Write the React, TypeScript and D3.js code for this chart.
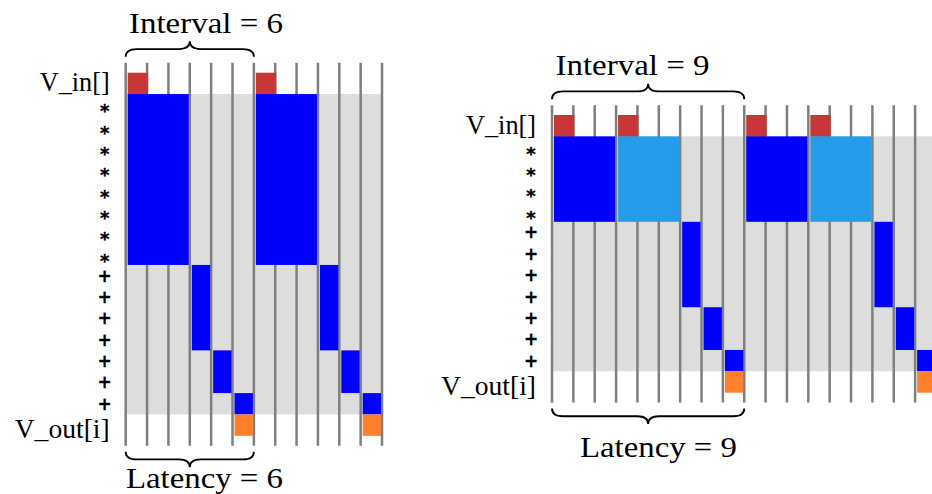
import React from 'react';
import * as d3 from 'd3';

// row labels, top to bottom
const leftRows = ['V_in[]', '*', '*', '*', '*', '*', '*', '*', '*', '+', '+', '+', '+', '+', '+', '+', 'V_out[i]'];
const rightRows = ['V_in[]', '*', '*', '*', '*', '+', '+', '+', '+', '+', '+', '+', 'V_out[i]'];

// schedule blocks: [col, colSpan, row, rowSpan, kind]
type Block = [number, number, number, number, string];

const leftBlocks: Block[] = [
  [0, 1, 0, 1, 'in'], [6, 1, 0, 1, 'in'],
  [0, 3, 1, 8, 'mul'], [6, 3, 1, 8, 'mul'],
  [3, 1, 9, 4, 'add'], [4, 1, 13, 2, 'add'], [5, 1, 15, 1, 'add'],
  [9, 1, 9, 4, 'add'], [10, 1, 13, 2, 'add'], [11, 1, 15, 1, 'add'],
  [5, 1, 16, 1, 'out'], [11, 1, 16, 1, 'out'],
];

const rightBlocks: Block[] = [
  [0, 1, 0, 1, 'in'], [3, 1, 0, 1, 'in'], [9, 1, 0, 1, 'in'], [12, 1, 0, 1, 'in'],
  [0, 3, 1, 4, 'mul'], [3, 3, 1, 4, 'mul2'], [9, 3, 1, 4, 'mul'], [12, 3, 1, 4, 'mul2'],
  [6, 1, 5, 4, 'add'], [7, 1, 9, 2, 'add'], [8, 1, 11, 1, 'add'],
  [15, 1, 5, 4, 'add'], [16, 1, 9, 2, 'add'], [17, 1, 11, 1, 'add'],
  [8, 1, 12, 1, 'out'], [17, 1, 12, 1, 'out'],
];

const leftCols = 12;
const rightCols = 18;
const leftInterval = 6;
const leftLatency = 6;
const rightInterval = 9;
const rightLatency = 9;

const colors: Record<string, string> = {
  in: '#c83737',
  mul: '#0000ff',
  mul2: '#259ceb',
  add: '#0000ff',
  out: '#ff7f2a',
};

const SERIF = '"Liberation Serif", "Times New Roman", serif';
const SANS = '"DejaVu Sans", sans-serif';

function bracePath(x0: number, x1: number, yEnd: number, dir: number) {
  const h = 15.5;
  const mid = yEnd + (dir * h) / 2;
  const tip = yEnd + dir * h;
  const xc = (x0 + x1) / 2;
  const q = 11;
  return `M${x0},${yEnd} Q${x0},${mid} ${x0 + q},${mid} L${xc - q},${mid} Q${xc},${mid} ${xc},${tip}` +
    ` Q${xc},${mid} ${xc + q},${mid} L${x1 - q},${mid} Q${x1},${mid} ${x1},${yEnd}`;
}

interface DiagramProps {
  rows: string[];
  blocks: Block[];
  cols: number;
  interval: number;
  latency: number;
  left: number;
  top: number;
  cell: number;
  titleX: number;
  titleY: number;
  footX: number;
  footY: number;
}

const Diagram: React.FC<DiagramProps> = ({ rows, blocks, cols, interval, latency, left, top, cell, titleX, titleY, footX, footY }) => {
  const x = d3.scaleLinear().domain([0, cols]).range([left, left + cols * cell]);
  const y = d3.scaleLinear().domain([0, rows.length]).range([top, top + rows.length * cell]);
  const n = rows.length;
  const ext = cell * 0.46;
  const lineTop = y(0) - ext;
  const lineBot = y(n) + ext;

  return (
    <g>
      <rect x={x(0)} y={y(1)} width={x(cols) - x(0)} height={y(n - 1) - y(1)} fill="#dddddd" />
      {d3.range(cols + 1).map(i => (
        <line key={i} x1={x(i)} x2={x(i)} y1={lineTop} y2={lineBot} stroke="#7f7f7f" strokeWidth={2.5} />
      ))}
      {blocks.map(([c, cs, r, rs, kind], i) => {
        const x0 = x(c) + 2;
        const x1 = kind === 'in' ? x(c + cs) + 1 : x(c + cs) - 1;
        const y1 = kind === 'in' ? y(r + rs) + 0.5 : y(r + rs);
        return <rect key={i} x={x0} y={y(r)} width={x1 - x0} height={y1 - y(r)} fill={colors[kind]} />;
      })}
      {rows.map((lab, i) => {
        const cy = (y(i) + y(i + 1)) / 2;
        if (lab === '*') {
          return <text key={i} x={x(0) - 21} y={cy + 12.5} textAnchor="middle" fontFamily={SANS} fontWeight="bold"
            fontSize={18} stroke="#000" strokeWidth={0.35}>*</text>;
        }
        if (lab === '+') {
          return <text key={i} x={x(0) - 21} y={cy + 6} textAnchor="middle" fontFamily={SANS} fontWeight="bold"
            fontSize={17} stroke="#000" strokeWidth={0.3}>+</text>;
        }
        return null;
      })}
      <text x={x(0) - 16} y={(y(0) + y(1)) / 2 + 8} textAnchor="end" fontFamily={SERIF} fontSize={28}
        textLength={70} lengthAdjust="spacingAndGlyphs">{rows[0]}</text>
      <text x={x(0) - 16} y={(y(n - 1) + y(n)) / 2 + 12.5} textAnchor="end" fontFamily={SERIF} fontSize={27}
        textLength={95} lengthAdjust="spacingAndGlyphs">{rows[n - 1]}</text>
      <path d={bracePath(x(0), x(interval), lineTop - 6, -1)} fill="none" stroke="#000" strokeWidth={1.8} />
      <path d={bracePath(x(0), x(latency), lineBot + 6, 1)} fill="none" stroke="#000" strokeWidth={1.8} />
      <text x={titleX} y={titleY} fontFamily={SERIF} fontSize={29} textLength={154} lengthAdjust="spacingAndGlyphs">{`Interval = ${interval}`}</text>
      <text x={footX} y={footY} fontFamily={SERIF} fontSize={29} textLength={157} lengthAdjust="spacingAndGlyphs">{`Latency = ${latency}`}</text>
    </g>
  );
};

export default function App() {
  return (
    <svg width={932} height={494} style={{ position: 'absolute', left: 0, top: 0, background: '#fff' }}>
      <Diagram rows={leftRows} blocks={leftBlocks} cols={leftCols} interval={leftInterval} latency={leftLatency}
        left={125.7} top={72.7} cell={21.36} titleX={129} titleY={33} footX={126} footY={488} />
      <Diagram rows={rightRows} blocks={rightBlocks} cols={rightCols} interval={rightInterval} latency={rightLatency}
        left={552} top={115} cell={21.36} titleX={555.5} titleY={75} footX={580} footY={457} />
    </svg>
  );
}
